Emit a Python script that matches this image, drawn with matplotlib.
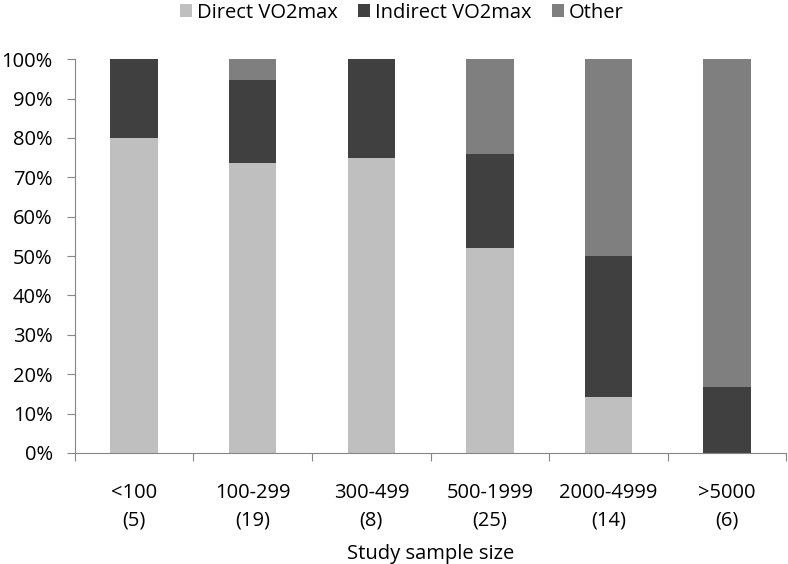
import matplotlib
matplotlib.use('Agg')
import matplotlib.pyplot as plt
import numpy as np
from matplotlib.ticker import PercentFormatter

plt.rcParams['font.family'] = ['Open Sans', 'DejaVu Sans']

# data (percent of studies in each sample-size group)
categories = ['<100\n(5)', '100-299\n(19)', '300-499\n(8)', '500-1999\n(25)', '2000-4999\n(14)', '>5000\n(6)']
direct = [80.0, 73.7, 75.0, 52.0, 14.3, 0.0]
indirect = [20.0, 21.0, 25.0, 24.0, 35.7, 16.7]
other = [0.0, 5.3, 0.0, 24.0, 50.0, 83.3]

fig = plt.figure(figsize=(7.88, 5.64), dpi=100)
ax = fig.add_axes([0.095, 0.197, 0.903, 0.698])

x = np.arange(len(categories))
w = 0.4
ax.bar(x, direct, w, color='#bfbfbf', label='Direct VO2max')
ax.bar(x, indirect, w, bottom=direct, color='#404040', label='Indirect VO2max')
bot2 = np.array(direct) + np.array(indirect)
ax.bar(x, other, w, bottom=bot2, color='#7f7f7f', label='Other')

ax.set_xlim(-0.5, len(categories) - 0.5)
ax.set_ylim(0, 100)
ax.set_yticks(np.arange(0, 101, 10))
ax.yaxis.set_major_formatter(PercentFormatter(decimals=0))

# category labels between boundary ticks
ax.set_xticks(np.arange(-0.5, len(categories), 1))
ax.set_xticklabels([])
ax.set_xticks(x, minor=True)
ax.set_xticklabels(categories, minor=True, fontsize=14.5, linespacing=1.45)
ax.tick_params(axis='x', which='minor', length=0, pad=22)
ax.tick_params(axis='x', which='major', length=6, color='#868686', direction='out')
ax.tick_params(axis='y', length=6, color='#868686', labelsize=14.5, direction='out', pad=10)

for s in ['top', 'right']:
    ax.spines[s].set_visible(False)
ax.spines['left'].set_color('#868686')
ax.spines['bottom'].set_color('#868686')

ax.set_xlabel('Study sample size', fontsize=14.5, labelpad=10)

ax.legend(loc='upper center', bbox_to_anchor=(0.46, 1.19), ncol=3, frameon=False,
          fontsize=14.5, handlelength=0.6, handleheight=0.6, handletextpad=0.25, columnspacing=1.0)

fig.savefig('out.png', dpi=100)
